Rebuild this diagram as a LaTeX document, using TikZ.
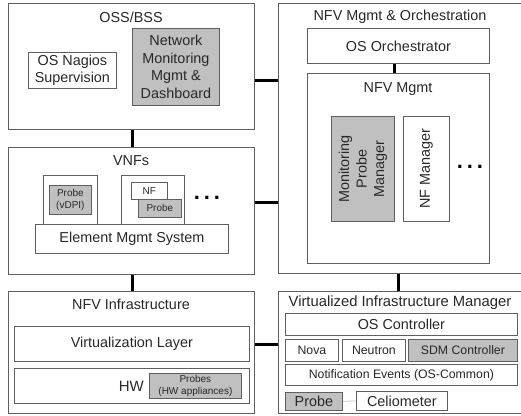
\documentclass[tikz,border=0pt]{standalone}
\usepackage{fontspec}
\setmainfont{Liberation Sans}
\definecolor{edgec}{RGB}{95,95,95}
\definecolor{probefill}{RGB}{192,192,192}
\definecolor{txt}{RGB}{40,40,40}
\begin{document}
\begin{tikzpicture}[x=1pt,y=-1pt,
  bx/.style={draw=edgec,line width=0.8pt,fill=white,inner sep=0pt,anchor=north west,text=txt,align=center,
     font=\fontsize{14.4}{17.5}\selectfont},
  gbx/.style={bx,fill=probefill},
  sm/.style={font=\fontsize{10}{12.5}\selectfont},
  md/.style={font=\fontsize{12.3}{14}\selectfont},
  ttl/.style={text=txt,inner sep=0pt,font=\fontsize{14.4}{17}\selectfont},
  link/.style={line width=2.4pt,black},
  dotsn/.style={text=black,inner sep=0pt,font=\fontsize{22}{22}\bfseries}
]
\useasboundingbox (0,0) rectangle (521,415);
\fill[white] (0,0) rectangle (521,415);

% OSS/BSS
\node[bx,minimum width=246pt,minimum height=126pt] (oss) at (8,3) {};
\node[ttl] (ossT) at (131,17) {OSS/BSS};
\node[bx,minimum width=88pt,minimum height=36pt] (nagios) at (28,52) {OS Nagios\\Supervision};
\node[gbx,minimum width=87pt,minimum height=77pt] (nmm) at (132,28) {Network\\Monitoring\\Mgmt \&\\Dashboard};

% VNFs
\node[bx,minimum width=246pt,minimum height=127pt] (vnf) at (8,147) {};
\node[ttl] (vnfT) at (131,161) {VNFs};
\node[bx,minimum width=54pt,minimum height=52pt] (vm1) at (43,175) {};
\node[gbx,sm,minimum width=42pt,minimum height=29pt] (probe1) at (49,185) {Probe\\(vDPI)};
\node[bx,minimum width=63pt,minimum height=52pt] (vm2) at (121,175) {};
\node[bx,sm,minimum width=36pt,minimum height=17pt] (nf) at (131,182) {NF};
\node[gbx,sm,minimum width=43pt,minimum height=18pt] (probe2) at (138,199) {Probe};
\node[dotsn] (dots1) at (207,198) {.\hspace{3.9pt}.\hspace{3.9pt}.};
\node[bx,minimum width=193pt,minimum height=29pt] (ems) at (35,224) {Element Mgmt System};

% NFV Infrastructure
\node[bx,minimum width=246pt,minimum height=122pt] (nfvi) at (8,291) {};
\node[ttl] (nfviT) at (131,304) {NFV Infrastructure};
\node[bx,minimum width=235pt,minimum height=35pt] (vl) at (14,326) {Virtualization Layer};
\node[bx,minimum width=235pt,minimum height=35pt] (hw) at (14,368) {};
\node[ttl,anchor=east,font=\fontsize{15}{17}\selectfont] (hwT) at (144,386) {HW};
\node[gbx,sm,minimum width=92pt,minimum height=25pt] (probes) at (149,373) {Probes\\(HW appliances)};

% NFV Mgmt & Orchestration
\node[bx,minimum width=260pt,minimum height=270pt] (mano) at (278,3) {};
\node[ttl] (manoT) at (400,17) {NFV Mgmt \& Orchestration};
\node[bx,minimum width=182pt,minimum height=35pt] (orch) at (307,28) {OS Orchestrator};
\node[bx,minimum width=182pt,minimum height=190pt] (nfvm) at (307,73) {};
\node[ttl] (nfvmT) at (398,89) {NFV Mgmt};
\node[gbx,minimum width=63pt,minimum height=105pt] (mpm) at (331,116) {};
\node[text=txt,rotate=90,align=center,inner sep=0pt,font=\fontsize{14.4}{17.5}\selectfont] (mpmT) at (mpm.center) {Monitoring\\Probe\\Manager};
\node[bx,minimum width=46pt,minimum height=105pt] (nfmgr) at (403,116) {};
\node[text=txt,rotate=90,inner sep=0pt,font=\fontsize{14.4}{17.5}\selectfont] (nfmgrT) at (nfmgr.center) {NF Manager};
\node[dotsn] (dots2) at (470,167) {.\hspace{3.9pt}.\hspace{3.9pt}.};

% VIM
\node[bx,minimum width=260pt,minimum height=122pt] (vim) at (278,291) {};
\node[ttl,font=\fontsize{14.8}{17}\selectfont] (vimT) at (400,303) {Virtualized Infrastructure Manager};
\node[bx,minimum width=232pt,minimum height=22pt] (osc) at (285,313) {OS Controller};
\node[bx,md,minimum width=53pt,minimum height=22pt] (nova) at (285,339) {Nova};
\node[bx,md,minimum width=63pt,minimum height=22pt] (neutron) at (342,339) {Neutron};
\node[gbx,md,minimum width=109pt,minimum height=22pt] (sdm) at (408,339) {SDM Controller};
\node[bx,md,minimum width=232pt,minimum height=21pt] (notif) at (285,364) {Notification Events (OS-Common)};
\node[gbx,minimum width=57pt,minimum height=18pt] (probe3) at (285,392) {Probe};
\node[bx,minimum width=91pt,minimum height=19pt] (celio) at (356,391) {Celiometer};
\draw[gray!40,line width=0.8pt] (probe3.east) -- (celio.west);

% connectors
\draw[link] ([yshift=-14pt]oss.east) -- ([yshift=-14pt]oss.east -| mano.west);
\draw[link] ([yshift=8.5pt]vnf.east) -- ([yshift=8.5pt]vnf.east -| mano.west);
\draw[link] ([yshift=8pt]nfvi.east) -- ([yshift=8pt]nfvi.east -| vim.west);
\draw[link] ([xshift=1pt]oss.south) -- ([xshift=1pt]vnf.north);
\draw[link] ([xshift=1pt]vnf.south) -- ([xshift=1pt]nfvi.north);
\draw[link] ([xshift=-4pt]orch.south) -- ([xshift=-4pt]nfvm.north);
\draw[link] (nfvm.south |- mano.south) -- (nfvm.south |- vim.north);
\end{tikzpicture}
\end{document}
